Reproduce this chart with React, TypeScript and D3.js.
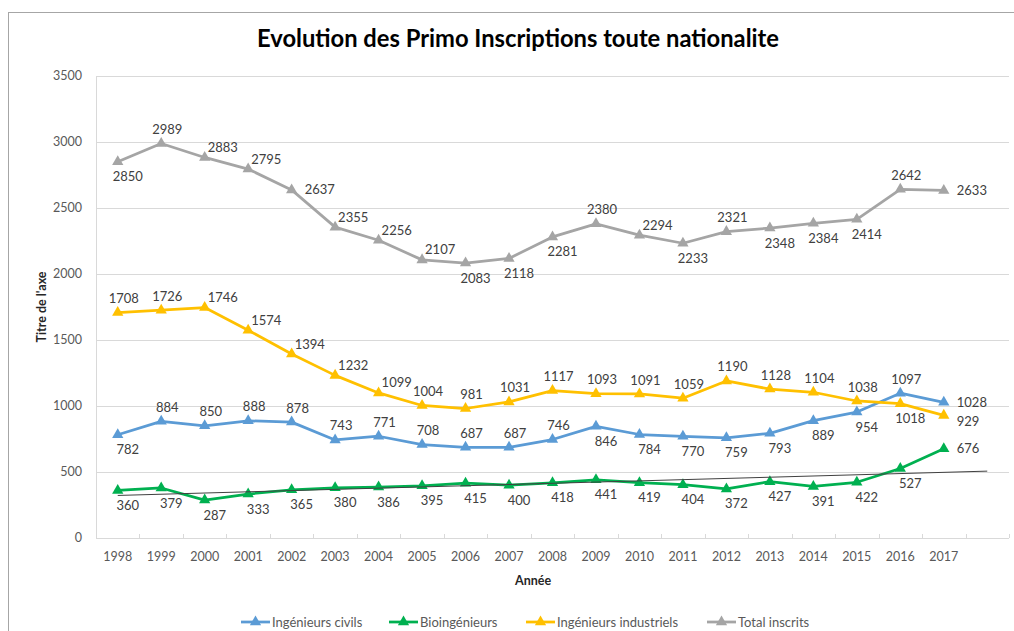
import React, { useEffect, useRef } from "react";
import * as d3 from "d3";

const years = ["1998", "1999", "2000", "2001", "2002", "2003", "2004", "2005", "2006", "2007",
   "2008", "2009", "2010", "2011", "2012", "2013", "2014", "2015", "2016", "2017"];
const civils = [782, 884, 850, 888, 878, 743, 771, 708, 687, 687, 746, 846, 784, 770, 759, 793, 889, 954, 1097, 1028];
const bio = [360, 379, 287, 333, 365, 380, 386, 395, 415, 400, 418, 441, 419, 404, 372, 427, 391, 422, 527, 676];
const industriels = [1708, 1726, 1746, 1574, 1394, 1232, 1099, 1004, 981, 1031, 1117, 1093, 1091, 1059, 1190, 1128, 1104, 1038, 1018, 929];
const total = [2850, 2989, 2883, 2795, 2637, 2355, 2256, 2107, 2083, 2118, 2281, 2380, 2294, 2233, 2321, 2348, 2384, 2414, 2642, 2633];
const yTicks = [0, 500, 1000, 1500, 2000, 2500, 3000, 3500];

// label side for each point: a = above, ar = above right, b = below, r = right, rb = right, a bit lower
const civilsPos = "b a a a a a a a a a a b b b b b b b a r".split(" ");
const bioPos = "b b b b b b b b b b b b b b b b b b b r".split(" ");
const industrielsPos = "a a ar ar ar ar ar a a a a a a a a a a a b rb".split(" ");
const totalPos = "b a ar ar r ar ar ar b b b a ar b a b b b a r".split(" ");

const series = [
   { name: "Ingénieurs civils", values: civils, color: "#5B9BD5", pos: civilsPos },
   { name: "Bioingénieurs", values: bio, color: "#00B050", pos: bioPos },
   { name: "Ingénieurs industriels", values: industriels, color: "#FFC000", pos: industrielsPos },
   { name: "Total inscrits", values: total, color: "#A5A5A5", pos: totalPos },
];

const FONT = "Lato, 'Open Sans', sans-serif";
const W = 1014;
const H = 631;
const left = 96, right = 1009, top = 76, bottom = 538;

export default function App() {
   const ref = useRef<SVGSVGElement>(null);

   useEffect(() => {
      const svg = d3.select(ref.current);
      svg.selectAll("*").remove();

      // chart border
      svg.append("rect")
         .attr("x", 8.5).attr("y", 12.5)
         .attr("width", 1100).attr("height", 700)
         .attr("fill", "#fff")
         .attr("stroke", "#A6A6A6");

      // title
      svg.append("text")
         .attr("x", 257).attr("y", 47)
         .attr("font-family", FONT)
         .attr("font-weight", "bold")
         .attr("font-size", 24)
         .attr("textLength", 522)
         .attr("lengthAdjust", "spacingAndGlyphs")
         .attr("fill", "#000")
         .text("Evolution des Primo Inscriptions toute nationalite");

      const y = d3.scaleLinear().domain([0, 3500]).range([bottom, top]);
      // one extra empty category for the trendline's forward period
      const x = d3.scaleBand<number>()
         .domain(d3.range(years.length + 1))
         .range([left, right]);
      const cx = (i: number) => (x(i) as number) + x.bandwidth() / 2;

      // gridlines + y labels
      svg.append("g").selectAll("line")
         .data(yTicks.filter((t) => t > 0))
         .join("line")
         .attr("x1", left).attr("x2", right)
         .attr("y1", (d) => Math.round(y(d)) + 0.5)
         .attr("y2", (d) => Math.round(y(d)) + 0.5)
         .attr("stroke", "#D9D9D9");

      svg.append("g").selectAll("text")
         .data(yTicks)
         .join("text")
         .attr("x", 82)
         .attr("y", (d) => y(d))
         .attr("dy", "0.35em")
         .attr("text-anchor", "end")
         .attr("font-family", FONT)
         .attr("font-size", 12.5)
         .attr("fill", "#595959")
         .text((d) => d);

      // axes lines
      svg.append("line")
         .attr("x1", left + 0.5).attr("x2", left + 0.5)
         .attr("y1", top).attr("y2", bottom)
         .attr("stroke", "#D9D9D9");
      svg.append("line")
         .attr("x1", left).attr("x2", right)
         .attr("y1", bottom + 0.5).attr("y2", bottom + 0.5)
         .attr("stroke", "#D9D9D9");

      // x ticks at category boundaries
      svg.append("g").selectAll("line")
         .data(d3.range(1, years.length + 2))
         .join("line")
         .attr("x1", (i) => Math.round(left + i * x.bandwidth()) + 0.5)
         .attr("x2", (i) => Math.round(left + i * x.bandwidth()) + 0.5)
         .attr("y1", bottom - 4).attr("y2", bottom)
         .attr("stroke", "#D9D9D9");

      svg.append("g").selectAll("text")
         .data(years)
         .join("text")
         .attr("x", (d, i) => cx(i))
         .attr("y", 557)
         .attr("dy", "0.35em")
         .attr("text-anchor", "middle")
         .attr("font-family", FONT)
         .attr("font-size", 12.5)
         .attr("fill", "#595959")
         .text((d) => d);

      // axis titles
      svg.append("text")
         .attr("x", 515).attr("y", 581)
         .attr("dy", "0.35em")
         .attr("font-family", FONT)
         .attr("font-weight", "bold")
         .attr("font-size", 12.5)
         .attr("fill", "#262626")
         .text("Année");

      svg.append("text")
         .attr("transform", `translate(42,${(top + bottom) / 2}) rotate(-90)`)
         .attr("dy", "0.35em")
         .attr("text-anchor", "middle")
         .attr("font-family", FONT)
         .attr("font-weight", "bold")
         .attr("font-size", 12.5)
         .attr("fill", "#262626")
         .text("Titre de l'axe");

      const line = d3.line<number>()
         .x((d, i) => cx(i))
         .y((d) => y(d));
      const tri = d3.symbol().type(d3.symbolTriangle).size(55);

      series.forEach((s) => {
         const g = svg.append("g");
         g.append("path")
            .datum(s.values)
            .attr("fill", "none")
            .attr("stroke", s.color)
            .attr("stroke-width", 2.75)
            .attr("stroke-linejoin", "round")
            .attr("d", line);
         g.selectAll("path.m")
            .data(s.values)
            .join("path")
            .attr("class", "m")
            .attr("d", tri)
            .attr("transform", (d, i) => `translate(${cx(i)},${y(d)})`)
            .attr("fill", s.color);
      });

      // linear trendline on Bioingénieurs, forward 1 period
      const n = bio.length;
      const mx = d3.mean(d3.range(n)) as number;
      const my = d3.mean(bio) as number;
      const slope = d3.sum(bio, (v, i) => (i - mx) * (v - my)) / d3.sum(d3.range(n), (i) => (i - mx) ** 2);
      const icpt = my - slope * mx;
      svg.append("line")
         .attr("x1", cx(0)).attr("y1", y(icpt))
         .attr("x2", cx(n)).attr("y2", y(icpt + slope * n))
         .attr("stroke", "#404040")
         .attr("stroke-width", 1);

      // data labels
      series.forEach((s) => {
         svg.append("g").selectAll("text")
            .data(s.values)
            .join("text")
            .attr("x", (d, i) => {
               const p = s.pos[i];
               if (p === "a") return cx(i) + 6;
               if (p === "b") return cx(i) + 10;
               if (p === "ar") return cx(i) + 3;
               return cx(i) + 13;
            })
            .attr("y", (d, i) => {
               const p = s.pos[i];
               if (p === "a") return y(d) - 14;
               if (p === "b") return y(d) + 15;
               if (p === "ar") return y(d) - 10;
               if (p === "rb") return y(d) + 6;
               return y(d);
            })
            .attr("dy", "0.35em")
            .attr("text-anchor", (d, i) => (s.pos[i] === "a" || s.pos[i] === "b" ? "middle" : "start"))
            .attr("font-family", FONT)
            .attr("font-size", 13)
            .attr("fill", "#404040")
            .text((d) => d);
      });

      // legend
      const legendX = [241, 389, 526, 707];
      const lg = svg.append("g").attr("transform", "translate(0,622)");
      series.forEach((s, i) => {
         lg.append("line")
            .attr("x1", legendX[i]).attr("x2", legendX[i] + 29)
            .attr("stroke", s.color)
            .attr("stroke-width", 2.75);
         lg.append("path")
            .attr("d", tri)
            .attr("transform", `translate(${legendX[i] + 14.5},0)`)
            .attr("fill", s.color);
         lg.append("text")
            .attr("x", legendX[i] + 31)
            .attr("dy", "0.35em")
            .attr("font-family", FONT)
            .attr("font-size", 13)
            .attr("fill", "#595959")
            .text(s.name);
      });
   }, []);

   return (
      <div style={{ position: "absolute", left: 0, top: 0 }}>
         <svg ref={ref} width={W} height={H} style={{ display: "block", background: "#fff" }}></svg>
      </div>
   );
}
